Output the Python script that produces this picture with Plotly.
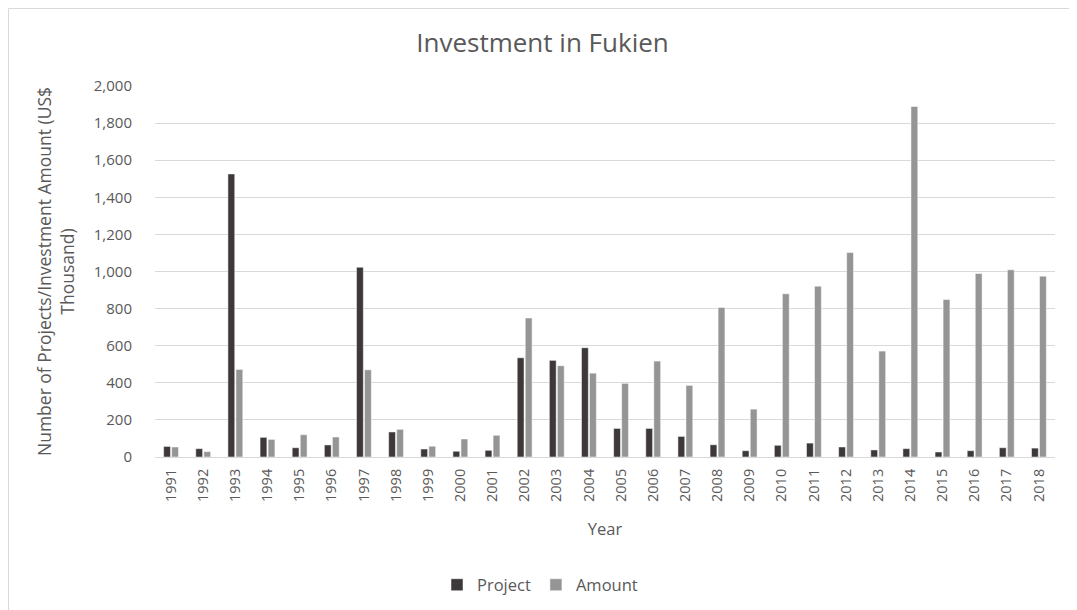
import plotly.graph_objects as go

years = [str(y) for y in range(1991, 2019)]
project = [57, 45, 1526, 106, 50, 65, 1023, 135, 43, 31, 36, 535, 521, 589,
           154, 154, 111, 66, 34, 63, 75, 54, 38, 45, 27, 34, 50, 48]
amount = [54, 29, 472, 95, 120, 108, 470, 149, 58, 97, 117, 749, 492, 452,
          397, 517, 386, 806, 258, 880, 921, 1102, 571, 1890, 849, 989, 1009, 975]

FONT = "Open Sans"
GREY = "#595959"

# page body has an 8px margin; figure is sized/placed to compensate
W, H = 1069, 602
L, T, PW, PH = 147, 78, 900, 371

fig = go.Figure()
fig.add_trace(go.Bar(name="Project", x=years, y=project,
                     marker=dict(color="#3D3939", line=dict(color="#FFFFFF", width=0.5))))
fig.add_trace(go.Bar(name="Amount", x=years, y=amount,
                     marker=dict(color="#959595", line=dict(color="#FFFFFF", width=0.5))))

fig.update_layout(
    width=W, height=H,
    barmode="group", bargap=0.5, bargroupgap=0.15,
    plot_bgcolor="white", paper_bgcolor="white",
    margin=dict(l=L, r=W - L - PW, t=T, b=H - T - PH, autoexpand=False),
    font=dict(family=FONT, color=GREY, size=15),
    title=dict(text="Investment in Fukien", x=0.5, xanchor="center",
               y=1 - 35 / H, yanchor="middle", font=dict(size=26, color=GREY, family=FONT)),
    xaxis=dict(type="category", tickangle=-90, showgrid=False, automargin=False,
               showline=True, linecolor="#D9D9D9", linewidth=1,
               ticks="", ticklabelstandoff=5, tickfont=dict(size=14.5, color=GREY),
               title=dict(text="Year", font=dict(size=16.5, color=GREY), standoff=22)),
    yaxis=dict(range=[0, 2000], dtick=200, tickformat=",", showgrid=True, automargin=False,
               gridcolor="#D9D9D9", gridwidth=1, zeroline=False, ticks="",
               ticklabelstandoff=22, tickfont=dict(size=15, color=GREY),
               title=dict(text="Number of Projects/Investment Amount (US$<br>Thousand)",
                          font=dict(size=17.5, color=GREY), standoff=14)),
    legend=dict(orientation="h", xref="container", yref="container",
                x=532 / W, xanchor="center", y=1 - 577 / H, yanchor="middle",
                font=dict(size=16.5, color=GREY), itemwidth=30, traceorder="normal"),
    shapes=[dict(type="rect", xref="paper", yref="paper",
                 x0=(0.5 - L) / PW, x1=(W + 20 - L) / PW,
                 y0=(T + PH - (H + 20)) / PH, y1=(T + PH - 0.5) / PH,
                 line=dict(color="#D9D9D9", width=1), layer="below")],
)

fig.write_html("out.html")
